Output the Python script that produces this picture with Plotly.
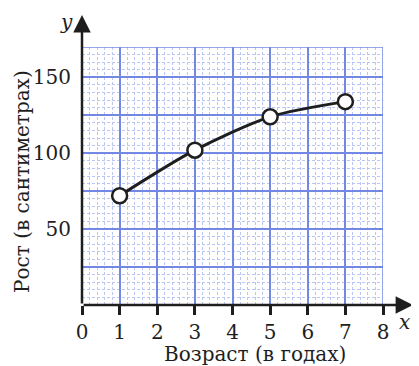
import plotly.graph_objects as go

ages = [1, 3, 5, 7]
heights = [72, 102, 124, 134]
x_ticks = [0, 1, 2, 3, 4, 5, 6, 7, 8]
y_tickvals = [0, 25, 50, 75, 100, 125, 150]
y_ticktext = ["", "", "50", "", "100", "", "150"]
x_title = "Возраст (в годах)"
y_title = "Рост (в сантиметрах)"

FONT = "DejaVu Serif"
MAJOR = "#7388e2"
MINOR = "#bcc6f4"
INK = "#1e1e1e"

fig = go.Figure()
fig.add_trace(go.Scatter(
    x=ages, y=heights, mode="lines+markers",
    line=dict(color=INK, width=3, shape="spline", smoothing=0.8),
    marker=dict(size=15, color="white", line=dict(color=INK, width=2.5)),
    cliponaxis=False, showlegend=False,
))

# page body has an 8px margin, so the figure is 8px smaller and shifted
fig.update_layout(
    width=411, height=358,
    margin=dict(l=74, r=36, t=39, b=61, autoexpand=False),
    paper_bgcolor="white", plot_bgcolor="white",
    font=dict(family=FONT, size=20, color=INK),
    xaxis=dict(
        range=[0, 8], tickmode="array", tickvals=x_ticks,
        ticktext=[str(v) for v in x_ticks],
        showgrid=True, gridcolor=MAJOR, gridwidth=1.5,
        ticks="outside", ticklen=9, tickwidth=2.5, tickcolor=INK,
        zeroline=False, showline=False, automargin=False,
        tickfont=dict(family=FONT, size=20, color=INK),
        minor=dict(tickmode="linear", tick0=0, dtick=0.2, showgrid=True,
                   gridcolor=MINOR, gridwidth=1, griddash="3px,2px", ticks=""),
    ),
    yaxis=dict(
        range=[0, 170], tickmode="array", tickvals=y_tickvals, ticktext=y_ticktext,
        showgrid=True, gridcolor=MAJOR, gridwidth=1.5,
        ticks="", zeroline=False, showline=False, ticklabelstandoff=10,
        automargin=False,
        tickfont=dict(family=FONT, size=20, color=INK),
        minor=dict(tickmode="linear", tick0=0, dtick=5, showgrid=True,
                   gridcolor=MINOR, gridwidth=1, griddash="3px,2px", ticks=""),
    ),
)

# grid border (top and right)
fig.add_shape(type="line", xref="x", yref="y", x0=0, x1=8, y0=170, y1=170,
              line=dict(color=MAJOR, width=1.5))
fig.add_shape(type="line", xref="x", yref="y", x0=8, x1=8, y0=0, y1=170,
              line=dict(color=MAJOR, width=1.5))

# axes with arrows
fig.add_annotation(x=1.1, y=0, xref="paper", yref="paper", ax=-331, ay=0,
                   axref="pixel", ayref="pixel", text="", showarrow=True,
                   arrowhead=2, arrowsize=1.4, arrowwidth=2.5, arrowcolor=INK)
fig.add_annotation(x=0, y=1.124, xref="paper", yref="paper", ax=0, ay=290,
                   text="", showarrow=True,
                   arrowhead=2, arrowsize=1.4, arrowwidth=2.5, arrowcolor=INK)

# axis letters
fig.add_annotation(x=-0.05, y=1.095, xref="paper", yref="paper", text="<i>y</i>",
                   xanchor="center", yanchor="middle",
                   showarrow=False, font=dict(family=FONT, size=20, color=INK))
fig.add_annotation(x=1.072, y=-0.066, xref="paper", yref="paper", text="<i>x</i>",
                   xanchor="center", yanchor="middle",
                   showarrow=False, font=dict(family=FONT, size=20, color=INK))

# axis titles
fig.add_annotation(x=0.575, y=-0.19, xref="paper", yref="paper", text=x_title,
                   xanchor="center", yanchor="middle",
                   showarrow=False, font=dict(family=FONT, size=20, color=INK))
fig.add_annotation(x=-0.2, y=0.48, xref="paper", yref="paper", text=y_title,
                   xanchor="center", yanchor="middle",
                   textangle=-90, showarrow=False,
                   font=dict(family=FONT, size=20, color=INK))

fig.write_html("out.html")
